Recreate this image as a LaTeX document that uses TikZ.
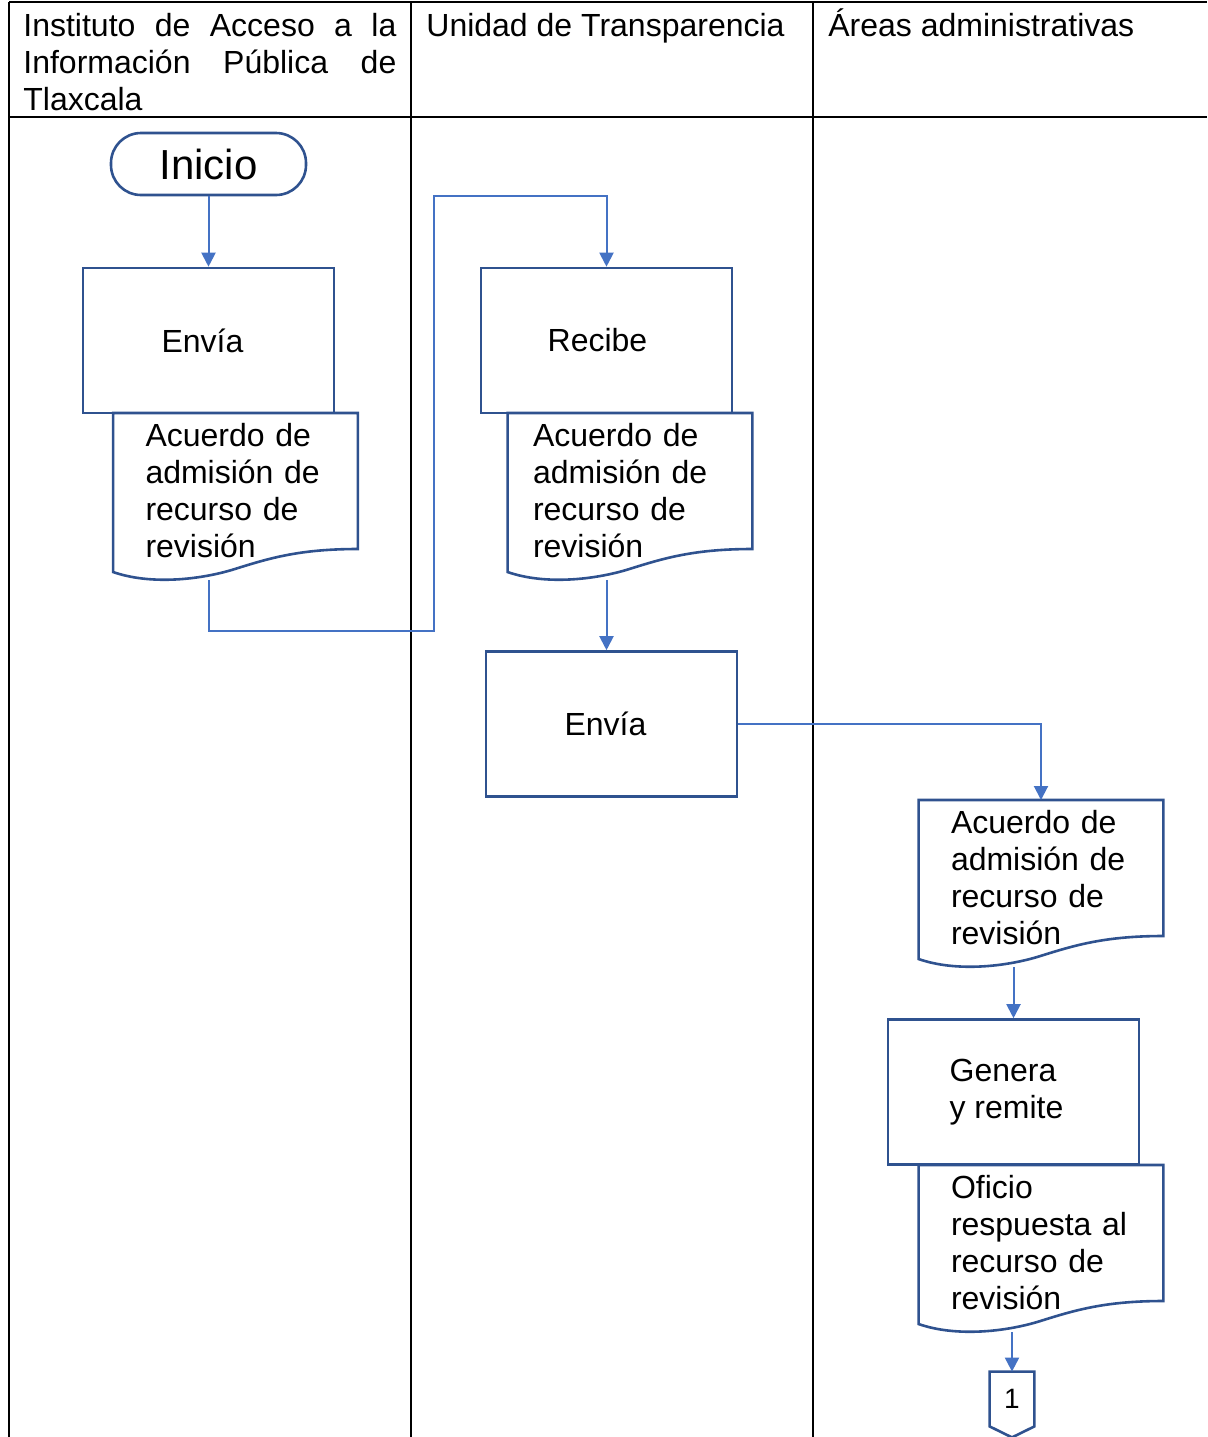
\documentclass[tikz,border=0pt]{standalone}
\usepackage{fontspec}
\setmainfont{Liberation Sans}
\usetikzlibrary{arrows.meta,calc}
\definecolor{shapeblue}{HTML}{2F528F}
\definecolor{lineblue}{HTML}{4472C4}
\hyphenpenalty=10000
\exhyphenpenalty=10000

\tikzset{
  lane/.style={black, line width=1pt},
  lanetext/.style={anchor=base west, inner sep=0pt, font=\fontsize{16}{18.5}\selectfont},
  start/.style={draw=shapeblue, line width=1.3pt, rounded corners=15pt, minimum width=97.5pt, minimum height=31pt, font=\fontsize{21}{24}\selectfont},
  proc/.style={draw=shapeblue, line width=1.3pt, minimum width=125.5pt, minimum height=72.5pt, align=left, font=\fontsize{16}{18.5}\selectfont},
  doc/.style={anchor=north, minimum width=122pt, minimum height=77.5pt, inner xsep=16pt, text width=90pt, align=left, font=\fontsize{16}{18.5}\selectfont},
  docline/.style={draw=shapeblue, line width=1.3pt},
  flow/.style={lineblue, line width=1pt, -{Triangle[length=7pt,width=7pt]}}
}

% document outline with wavy bottom, 167 high from the top edge
\newcommand{\docshape}[1]{%
  \draw[docline] (#1.north west) -- (#1.north east) -- ($(#1.north east)+(0,136)$)
    .. controls ($(#1.north east)+(-58,136)$) and ($(#1.north east)+(-88,145)$) .. ($(#1.north east)+(-123,156)$)
    .. controls ($(#1.north east)+(-158,167)$) and ($(#1.north west)+(37,172)$) .. ($(#1.north west)+(0,159)$) -- cycle;
  \coordinate (#1-bot) at ($(#1.north)+(0,167)$);}

\begin{document}
\begin{tikzpicture}[x=0.5pt, y=-0.5pt]
    \useasboundingbox (0,0) rectangle (1207,1437);

    % Lanes
    \draw[lane] (9,2) -- (1207,2);
    \draw[lane] (9,117) -- (1207,117);
    \foreach \x in {9,411,813}
        \draw[lane] (\x,2) -- (\x,1437);

    \node[lanetext, text width=186.5pt, align=justify] (h1) at (23,36) {Instituto de Acceso a la Información Pública de Tlaxcala};
    \node[lanetext] (h2) at (426,36) {Unidad de Transparencia};
    \node[lanetext] (h3) at (828,36) {Áreas administrativas};

    % Shapes
    \node[start] (ini) at (208.5,164) {Inicio};
    \node[proc] (e1) at (208.5,340.5) {Envía\hspace{6pt}};
    \node[doc] (d1) at (235.5,413) {Acuerdo de\\admisión de\\recurso de\\revisión};
    \docshape{d1}

    \node[proc] (r1) at (606.5,340.5) {Recibe\hspace{9pt}};
    \node[doc] (d2) at (630,413) {\hspace*{-3.5pt}Acuerdo de\\\hspace*{-3.5pt}admisión de\\\hspace*{-3.5pt}recurso de\\\hspace*{-3.5pt}revisión};
    \docshape{d2}
    \node[proc] (e2) at (611.5,724) {Envía\hspace{6pt}};

    \node[doc] (d3) at (1041,800) {Acuerdo de\\admisión de\\recurso de\\revisión};
    \docshape{d3}
    \node[proc] (g1) at (1013.5,1092) {Genera\\y remite\makebox[7pt]{}};
    \node[doc] (d4) at (1041,1165) {Oficio\\respuesta al\\recurso de\\revisión};
    \docshape{d4}

    % Off-page connector
    \node[minimum width=22pt, minimum height=27pt, inner sep=0pt, font=\fontsize{14}{16}\selectfont] (c1) at (1012,1399) {1};
    \draw[docline] (c1.north west) -- (c1.north east) -- (c1.south east) -- ($(c1.south)+(0,11)$) -- (c1.south west) -- cycle;

    % Connectors
    \coordinate (k1) at (434,631);
    \coordinate (k2) at (434,196);
    \draw[flow] (ini) -- (e1);
    \draw[flow] (d1-bot -| e1) |- (k1) -- (k2) -| (r1);
    \draw[flow] (d2-bot -| r1) -- (r1 |- e2.north);
    \draw[flow] (e2) -| (d3);
    \draw[flow] (d3-bot -| g1) -- (g1);
    \draw[flow] (d4-bot -| c1) -- (c1);

\end{tikzpicture}
\end{document}
